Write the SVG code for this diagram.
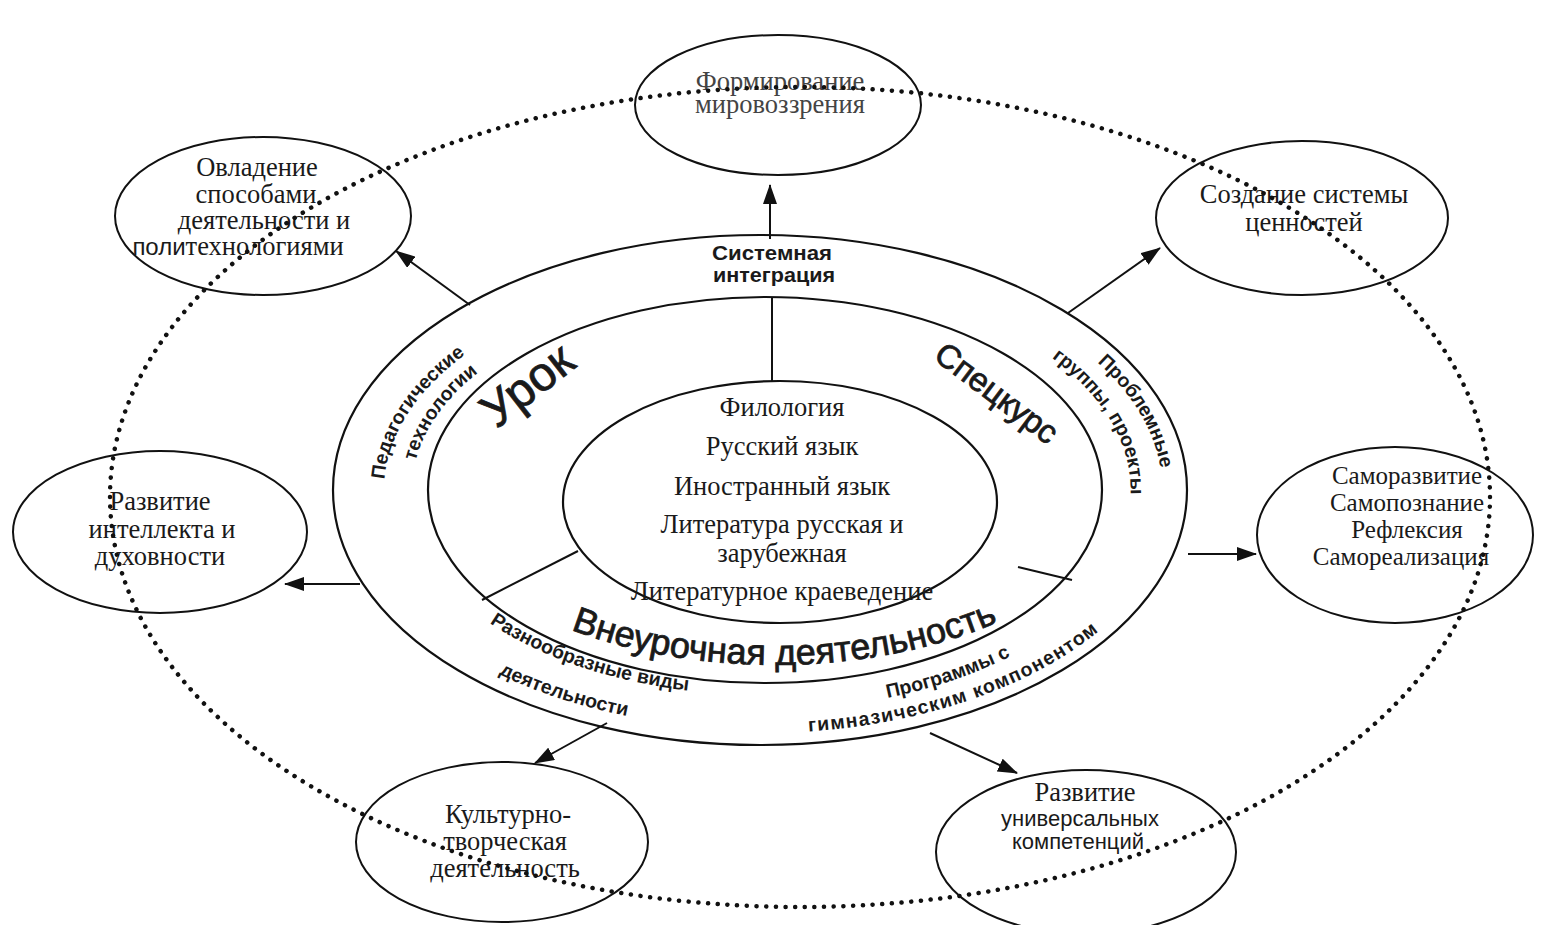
<svg xmlns="http://www.w3.org/2000/svg" width="1543" height="925" viewBox="0 0 1543 925">
<style>
.ring{fill:none;stroke:#111;stroke-width:2.2}
.node{fill:none;stroke:#111;stroke-width:2}
.ln{fill:none;stroke:#111;stroke-width:2}
.arr{fill:none;stroke:#111;stroke-width:2;marker-end:url(#ah)}
.dots{fill:none;stroke:#111;stroke-width:4.5;stroke-linecap:round;stroke-dasharray:0.1 9.6}
.serif{font-family:"Liberation Serif","Times New Roman",serif;font-size:26.5px;fill:#1a1a1a;text-anchor:middle}
.sans{font-family:"Liberation Sans",Arial,sans-serif;fill:#1a1a1a}
.lbl{font-family:"Liberation Sans",Arial,sans-serif;font-size:19.5px;font-weight:bold;fill:#1a1a1a}
.big{font-family:"Liberation Sans",Arial,sans-serif;fill:#1a1a1a;stroke:#1a1a1a;stroke-width:0.8}
</style>
<defs>
<marker id="ah" markerWidth="20" markerHeight="14" refX="19" refY="7" orient="auto" markerUnits="userSpaceOnUse"><path d="M0,0 L20,7 L0,14 z" fill="#111"/></marker>
<path id="pPed" d="M396.8,546.4 A376.06,217.78 0 0 1 544.3,311.6"/>
<path id="pTeh" d="M413.2,507.4 A348.16,200.08 0 0 1 585.9,316.7"/>
<path id="pPro" d="M1018.5,310.5 A402.1,234.3 0 0 1 1148.4,550.6"/>
<path id="pGru" d="M972.5,314.5 A370.5,214.2 0 0 1 1108.2,563.3"/>
<path id="pRaz" d="M425.8,560.0 A355.6,204.8 0 0 0 821.7,691.7"/>
<path id="pDey" d="M405.4,609.5 A409.5,239.0 0 0 0 831.1,725.4"/>
<path id="pPrg" d="M760,710.7 A380.7,220.7 0 0 0 1117.7,565.5"/>
<path id="pGim" d="M652.3,724.9 A416.05,243.15 0 0 0 1161.9,552.9"/>
<path id="pVne" d="M400.8,479.1 A380,225 0 0 0 1149.2,479.1"/>
</defs>
<rect width="1543" height="925" fill="#fff"/>

<g id="rings">
<ellipse class="ring" cx="760" cy="490" rx="427" ry="255"/>
<ellipse class="ring" cx="765" cy="490" rx="337" ry="193"/>
<ellipse class="ring" cx="780" cy="502" rx="217" ry="121"/>
<line class="ln" x1="772" y1="297" x2="772" y2="381"/>
<line class="ln" x1="482" y1="600" x2="578" y2="551"/>
<line class="ln" x1="1018" y1="567" x2="1072" y2="580"/>
</g>

<g id="ring-labels">
<text class="lbl" x="772" y="260" text-anchor="middle" font-size="21" textLength="120" lengthAdjust="spacingAndGlyphs">Системная</text>
<text class="lbl" x="774" y="282" text-anchor="middle" font-size="21" textLength="122" lengthAdjust="spacingAndGlyphs">интеграция</text>
<text class="lbl"><textPath href="#pPed" startOffset="145.6" text-anchor="middle">Педагогические</textPath></text>
<text class="lbl"><textPath href="#pTeh" startOffset="101.9" text-anchor="middle">технологии</textPath></text>
<text class="lbl"><textPath href="#pPro" startOffset="157.3" text-anchor="middle">Проблемные</textPath></text>
<text class="lbl"><textPath href="#pGru" startOffset="172.6" text-anchor="middle">группы, проекты</textPath></text>
<text class="lbl"><textPath href="#pRaz" startOffset="196.1" text-anchor="middle">Разнообразные виды</textPath></text>
<text class="lbl"><textPath href="#pDey" startOffset="181.6" text-anchor="middle">деятельности</textPath></text>
<text class="lbl"><textPath href="#pPrg" startOffset="193.5" text-anchor="middle">Программы с</textPath></text>
<text class="lbl" letter-spacing="1.2"><textPath href="#pGim" startOffset="313" text-anchor="middle">гимназическим компонентом</textPath></text>
<text class="big" font-size="48" text-anchor="middle" transform="translate(537,398) rotate(-38)">Урок</text>
<text class="big" font-size="33" text-anchor="middle" transform="translate(990,402) rotate(37)">Спецкурс</text>
<text class="big" font-size="36"><textPath href="#pVne" startOffset="453.4" text-anchor="middle">Внеурочная деятельность</textPath></text>
</g>

<g id="core">
<text class="serif" x="782" y="416">Филология</text>
<text class="serif" x="782" y="455">Русский язык</text>
<text class="serif" x="782" y="495">Иностранный язык</text>
<text class="serif" x="782" y="533">Литература русская и</text>
<text class="serif" x="782" y="562">зарубежная</text>
<text class="serif" x="782" y="600">Литературное краеведение</text>
</g>

<g id="node-mirovozzrenie">
<ellipse class="node" cx="778" cy="105" rx="143" ry="70"/>
<text class="serif" x="780" y="90" style="fill:#444">Формирование</text>
<text class="serif" x="780" y="113" style="fill:#444">мировоззрения</text>
</g>
<g id="node-ovladenie">
<ellipse class="node" cx="263" cy="216" rx="148" ry="79"/>
<text class="serif" x="257" y="176">Овладение</text>
<text class="serif" x="256" y="203">способами</text>
<text class="serif" x="264" y="229">деятельности и</text>
<text class="serif" x="238" y="255"><tspan style="font-family:'Liberation Sans',Arial,sans-serif;font-size:24px">поли</tspan>технологиями</text>
</g>
<g id="node-cennosti">
<ellipse class="node" cx="1302" cy="218" rx="146" ry="77"/>
<text class="serif" x="1304" y="203">Создание системы</text>
<text class="serif" x="1304" y="231">ценностей</text>
</g>
<g id="node-intellekt">
<ellipse class="node" cx="160" cy="532" rx="147" ry="81"/>
<text class="serif" x="160" y="510" font-size="27">Развитие</text>
<text class="serif" x="162" y="538" font-size="27">интеллекта и</text>
<text class="serif" x="160" y="565" font-size="27">духовности</text>
</g>
<g id="node-samorazvitie">
<ellipse class="node" cx="1395" cy="535" rx="138" ry="88"/>
<text class="serif" x="1407" y="484" style="font-size:25px">Саморазвитие</text>
<text class="serif" x="1407" y="511" style="font-size:25px">Самопознание</text>
<text class="serif" x="1407" y="538" style="font-size:25px">Рефлексия</text>
<text class="serif" x="1401" y="565" style="font-size:25px">Самореализация</text>
</g>
<g id="node-kultura">
<ellipse class="node" cx="502" cy="842" rx="146" ry="80"/>
<text class="serif" x="508" y="823">Культурно-</text>
<text class="serif" x="505" y="850">творческая</text>
<text class="serif" x="505" y="877">деятельность</text>
</g>
<g id="node-kompetencii">
<ellipse class="node" cx="1086" cy="852" rx="150" ry="82"/>
<text class="serif" x="1085" y="801">Развитие</text>
<text class="sans" x="1080" y="826" font-size="22" text-anchor="middle">универсальных</text>
<text class="sans" x="1078" y="849" font-size="22" text-anchor="middle">компетенций</text>
</g>

<g id="connectors">
<line class="arr" x1="770" y1="239" x2="770" y2="185"/>
<line class="arr" x1="470" y1="305" x2="396" y2="251"/>
<line class="arr" x1="1068" y1="313" x2="1160" y2="248"/>
<line class="arr" x1="360" y1="584" x2="285" y2="584"/>
<line class="arr" x1="1188" y1="554" x2="1256" y2="554"/>
<line class="arr" x1="607" y1="723" x2="535" y2="763"/>
<line class="arr" x1="930" y1="733" x2="1017" y2="773"/>
</g>

<g id="dotted-ring">
<ellipse class="dots" cx="800" cy="497" rx="690" ry="410"/>
</g>
</svg>
